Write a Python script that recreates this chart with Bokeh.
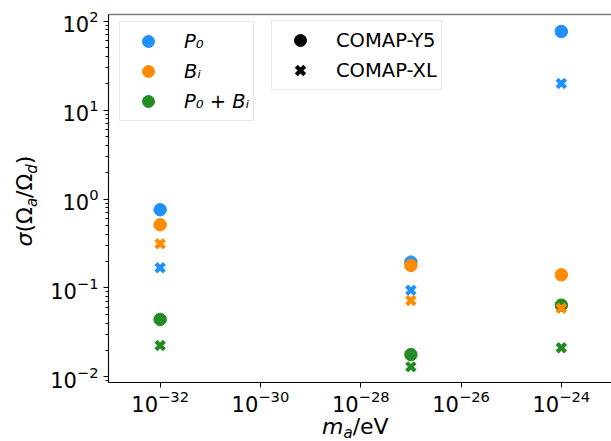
from bokeh.plotting import figure
from bokeh.models import LogAxis, FixedTicker, Legend, LegendItem, Range1d, Div
from bokeh.layouts import row, column
from bokeh.embed import file_html
from bokeh.resources import INLINE

# ---- data ----
MASS = [1e-32, 1e-27, 1e-24]
P0_Y5 = [0.757, 0.195, 76.6]
BI_Y5 = [0.514, 0.179, 0.1405]
P0BI_Y5 = [0.0442, 0.0178, 0.064]
P0_XL = [0.169, 0.0944, 19.9]
BI_XL = [0.314, 0.0722, 0.0592]
P0BI_XL = [0.0225, 0.01294, 0.0212]

X_TICKS = [1e-32, 1e-30, 1e-28, 1e-26, 1e-24]
Y_TICKS = [1e-2, 1e-1, 1e0, 1e1, 1e2]

BLUE = "#1E90FF"
ORANGE = "#FF8C00"
GREEN = "#228B22"
FONT = "DejaVu Sans"

YDIV_W = 38

p = figure(width=611 - YDIV_W, height=419, output_backend="svg", toolbar_location=None,
           x_axis_type="log", y_axis_type="log",
           x_range=Range1d(10 ** -33.03, 10 ** -23.0),
           y_range=Range1d(10 ** -2.064, 10 ** 2.0755),
           min_border_left=108 - YDIV_W, min_border_right=0, min_border_top=14,
           min_border_bottom=37, margin=0)
p.outline_line_color = None
p.xgrid.visible = False
p.ygrid.visible = False
p.background_fill_color = "white"
p.border_fill_color = "white"

for ax in (p.xaxis[0], p.yaxis[0]):
    ax.axis_line_color = "black"
    ax.axis_line_width = 1.1
    ax.major_tick_line_color = "black"
    ax.minor_tick_line_color = "black"
    ax.major_tick_in = 0
    ax.minor_tick_in = 0
    ax.major_tick_out = 5
    ax.minor_tick_out = 3
    ax.major_label_text_font = FONT
    ax.major_label_text_font_size = "21px"
    ax.major_label_text_color = "black"

p.xaxis[0].ticker = FixedTicker(ticks=X_TICKS, minor_ticks=[])
p.xaxis[0].major_label_standoff = 2
minor_y = [k * 10.0 ** e for e in range(-3, 3) for k in range(2, 10)]
p.yaxis[0].ticker = FixedTicker(ticks=Y_TICKS, minor_ticks=minor_y)
p.yaxis[0].major_label_standoff = 5

top_axis = LogAxis(ticker=FixedTicker(ticks=[], minor_ticks=[]),
                   major_tick_out=0, minor_tick_out=0, major_tick_in=0, minor_tick_in=0,
                   axis_line_color="#7f7f7f", axis_line_width=1.3,
                   major_label_text_font_size="0px")
p.add_layout(top_axis, "above")

CS = 12.5
XS = 12
XW = 4.2

# black legend proxies (tiny, hidden under the coloured circles)
r_y5 = p.scatter(MASS, P0_Y5, marker="circle", size=1, color="black")
r_xl = p.scatter(MASS, P0_Y5, marker="x", size=1, line_color="black", line_width=XW)

# data glyphs (Y5 first, then XL)
r_p0 = p.scatter(MASS, P0_Y5, marker="circle", size=CS, color=BLUE)
r_bi = p.scatter(MASS, BI_Y5, marker="circle", size=CS, color=ORANGE)
r_pb = p.scatter(MASS, P0BI_Y5, marker="circle", size=CS, color=GREEN)
p.scatter(MASS, P0_XL, marker="x", size=XS, line_color=BLUE, line_width=XW)
p.scatter(MASS, BI_XL, marker="x", size=XS, line_color=ORANGE, line_width=XW)
p.scatter(MASS, P0BI_XL, marker="x", size=XS, line_color=GREEN, line_width=XW)


def make_legend(items, loc, italic):
    return Legend(items=items, location=loc, orientation="vertical",
                  label_text_font=FONT, label_text_font_size="19.5px",
                  label_text_font_style="italic" if italic else "normal",
                  label_text_color="black",
                  glyph_width=48, glyph_height=30, label_height=30, spacing=0,
                  padding=4, label_standoff=12, margin=0,
                  border_line_color="#d0d0d0", border_line_width=1,
                  background_fill_color="white", background_fill_alpha=0.8)


leg1 = make_legend([LegendItem(label="P₀", renderers=[r_p0]),
                    LegendItem(label="Bᵢ", renderers=[r_bi]),
                    LegendItem(label="P₀ + Bᵢ", renderers=[r_pb])], (11, 261), True)
leg2 = make_legend([LegendItem(label="COMAP-Y5", renderers=[r_y5]),
                    LegendItem(label="COMAP-XL", renderers=[r_xl])], (163, 292), False)
p.add_layout(leg1, "center")
p.add_layout(leg2, "center")

# ---- axis labels as HTML text ----
BASE = "font-family:'DejaVu Sans';color:black;white-space:nowrap;line-height:1;"
SUBSTYLE = "font-size:15px;position:relative;top:5px;font-style:italic;"

ylabel_html = (
    f'<div style="position:relative;width:{YDIV_W}px;height:441px;">'
    f'<div style="position:absolute;left:25px;top:201px;'
    f'transform:translate(-50%,-50%) rotate(-90deg);{BASE}font-size:22px;">'
    f'<i>σ</i>(Ω<span style="{SUBSTYLE}">a</span>/Ω'
    f'<span style="{SUBSTYLE}">d</span>)</div></div>'
)
xlabel_html = (
    f'<div style="position:relative;width:{611 - YDIV_W}px;height:22px;">'
    f'<div style="position:absolute;left:{322 - YDIV_W}px;top:-3px;{BASE}font-size:22px;">'
    f'<i>m</i><span style="{SUBSTYLE}top:4px;">a</span>/eV</div></div>'
)

ydiv = Div(text=ylabel_html, width=YDIV_W, height=441, margin=0)
xdiv = Div(text=xlabel_html, width=611 - YDIV_W, height=22, margin=0)

layout = row(ydiv, column(p, xdiv, spacing=0), spacing=0)

open("out.html", "w").write(file_html(layout, INLINE))
